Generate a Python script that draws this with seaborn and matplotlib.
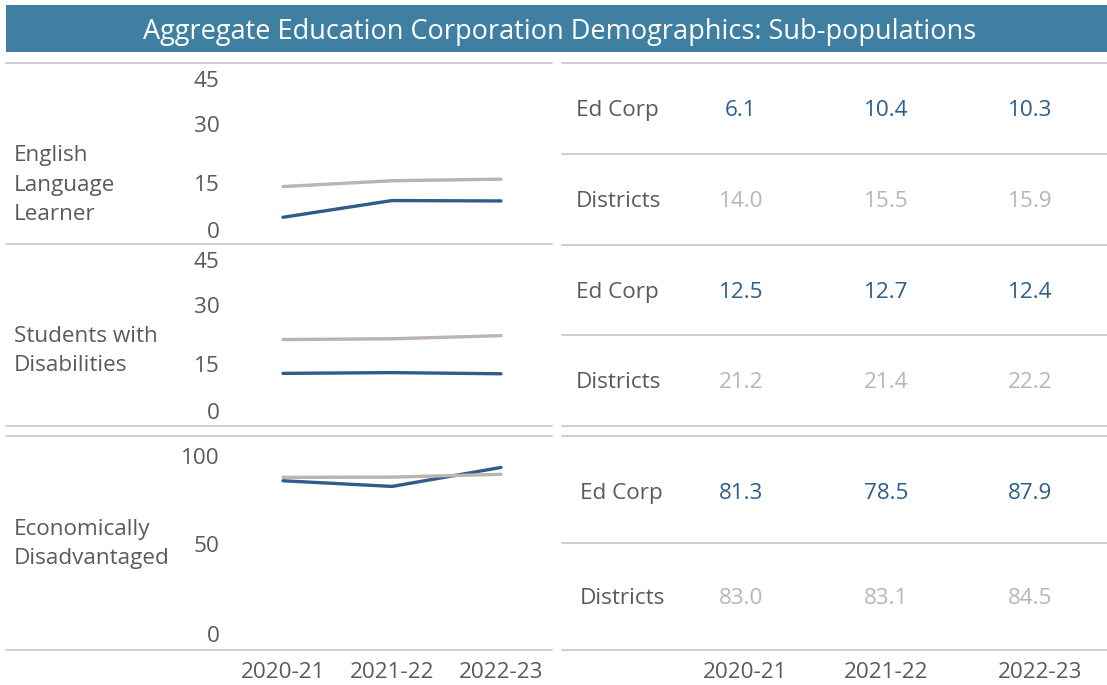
import matplotlib
matplotlib.use("Agg")
import matplotlib.pyplot as plt
from matplotlib.transforms import ScaledTranslation
import seaborn as sns
import pandas as pd

# ---- data ----
years = ["2020-21", "2021-22", "2022-23"]
groups = ["Ed Corp", "Districts"]
subpops = ["English\nLanguage\nLearner", "Students with\nDisabilities", "Economically\nDisadvantaged"]

ell_edcorp = [6.1, 10.4, 10.3]
ell_districts = [14.0, 15.5, 15.9]
swd_edcorp = [12.5, 12.7, 12.4]
swd_districts = [21.2, 21.4, 22.2]
ecd_edcorp = [81.3, 78.5, 87.9]
ecd_districts = [83.0, 83.1, 84.5]

ell_ticks = [0, 15, 30, 45]
swd_ticks = [0, 15, 30, 45]
ecd_ticks = [0, 50, 100]

title = "Aggregate Education Corporation Demographics: Sub-populations"

# ---- style ----
sns.set_theme(style="white")
plt.rcParams["font.family"] = ["Open Sans", "DejaVu Sans"]

BLUE = "#2d5d8a"
GRAY = "#bdb4af"
TXT = "#5a5a5a"
RULE = "#c6c6c6"
BAR = "#3f7fa1"
palette = {"Ed Corp": BLUE, "Districts": GRAY}

W, H = 1107, 685
fig = plt.figure(figsize=(W / 100, H / 100), dpi=100)


def box(x0, y0, x1, y1):
    """Pixel box (top-left origin) to figure fraction rect."""
    return [x0 / W, 1 - y1 / H, (x1 - x0) / W, (y1 - y0) / H]


def nudge(artist, dy_px):
    artist.set_transform(artist.get_transform()
                         + ScaledTranslation(0, dy_px / 100, fig.dpi_scale_trans))


# background layer for the banner, rules and table text
bg = fig.add_axes([0, 0, 1, 1])
bg.set_xlim(0, W)
bg.set_ylim(H, 0)
bg.axis("off")

bg.add_patch(plt.Rectangle((6, 5), W - 6, 47, color=BAR, lw=0))
bg.text(560, 32, title, color="white", ha="center", va="center", fontsize=19.5)

for y in [63, 244, 426, 436, 650]:
    bg.plot([6, 552], [y, y], color=RULE, lw=1.2)
for y in [63, 154, 245, 335, 426, 436, 543, 650]:
    bg.plot([562, W], [y, y], color=RULE, lw=1.2)

sections = [
    dict(label=subpops[0], label_y=185, ed=ell_edcorp, di=ell_districts,
         rows=(110, 201), ticks=ell_ticks, ylim=(0, 45), ax_y=(66, 241), glx=576),
    dict(label=subpops[1], label_y=351, ed=swd_edcorp, di=swd_districts,
         rows=(292, 382), ticks=swd_ticks, ylim=(0, 45), ax_y=(247, 422), glx=576),
    dict(label=subpops[2], label_y=544, ed=ecd_edcorp, di=ecd_districts,
         rows=(493, 599), ticks=ecd_ticks, ylim=(0, 100), ax_y=(443, 645), glx=580),
]

col_x = [741, 886, 1030]
FS = 16.2

for i, s in enumerate(sections):
    # row title
    bg.text(14, s["label_y"], s["label"], color=TXT, ha="left", va="center",
            fontsize=FS, linespacing=1.52)

    # table values
    for g, vals, ry, col in [("Ed Corp", s["ed"], s["rows"][0], BLUE),
                             ("Districts", s["di"], s["rows"][1], GRAY)]:
        bg.text(s["glx"], ry, g, color=TXT, ha="left", va="center", fontsize=FS)
        for cx, v in zip(col_x, vals):
            bg.text(cx, ry, f"{v:.1f}", color=col, ha="center", va="center", fontsize=FS)

    # trend chart
    df = pd.DataFrame({
        "pos": list(range(len(years))) * 2,
        "value": s["ed"] + s["di"],
        "group": ["Ed Corp"] * len(years) + ["Districts"] * len(years),
    })
    ax = fig.add_axes(box(240, s["ax_y"][0], 548, s["ax_y"][1]))
    sns.lineplot(data=df, x="pos", y="value", hue="group", hue_order=groups,
                 palette=palette, linewidth=2.4, legend=False, sort=False, ax=ax)
    for ln in ax.lines:
        ln.set_solid_capstyle("round")
        ln.set_clip_on(False)
    ax.set_xlim(-43 / 109, 2 + 47 / 109)
    ax.set_ylim(*s["ylim"])
    ax.set_facecolor("none")
    for sp in ax.spines.values():
        sp.set_visible(False)
    ax.set_xlabel("")
    ax.set_ylabel("")
    ax.set_yticks(s["ticks"])
    ax.set_yticklabels([str(t) for t in s["ticks"]])
    ax.tick_params(axis="y", length=0, pad=14.5, labelsize=FS, labelcolor=TXT)
    ylabels = ax.get_yticklabels()
    ylabels[0].set_va("bottom")
    nudge(ylabels[0], -2)
    ylabels[-1].set_va("top")
    nudge(ylabels[-1], -5)
    if i == len(sections) - 1:
        ax.set_xticks(range(len(years)))
        ax.set_xticklabels(years)
        ax.tick_params(axis="x", length=0, pad=12, labelsize=FS, labelcolor=TXT)
    else:
        ax.set_xticks([])

# column headers under the table
for cx, yr in zip([745, 886, 1040], years):
    bg.text(cx, 672, yr, color=TXT, ha="center", va="center", fontsize=FS)

fig.savefig("out.png", dpi=100)
